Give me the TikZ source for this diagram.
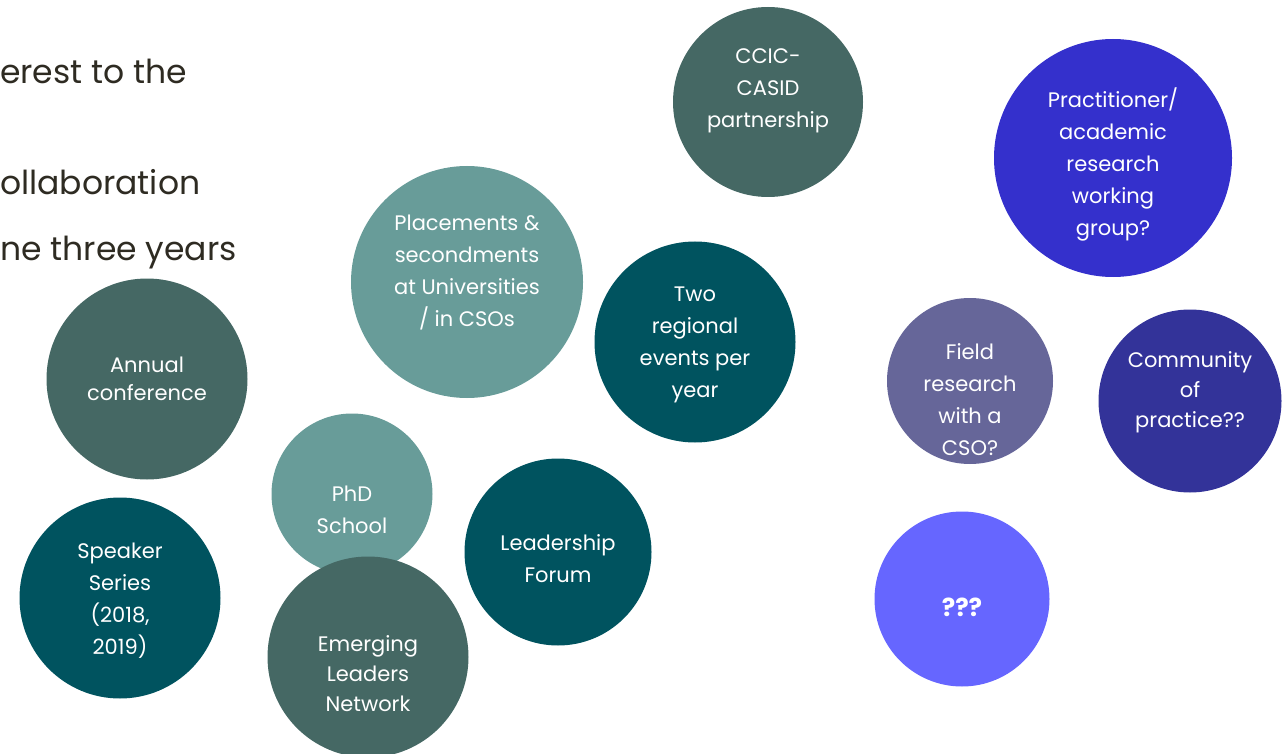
\documentclass[tikz,border=0pt]{standalone}
\usepackage{fontspec}
\setmainfont{Poppins}
\definecolor{slate}{HTML}{456864}
\definecolor{sage}{HTML}{689C99}
\definecolor{petrol}{HTML}{00535F}
\definecolor{royal}{HTML}{3430CC}
\definecolor{indigo}{HTML}{333399}
\definecolor{lavender}{HTML}{666699}
\definecolor{periwinkle}{HTML}{6666FF}
\definecolor{ink}{HTML}{2E2B22}
\begin{document}
\begin{tikzpicture}[
	x=1pt,y=-1pt,
	disc/.style={circle,inner sep=0pt,fill=#1},
	lbl/.style={text=white,align=center,font=\fontsize{21}{32}\selectfont},
	head/.style={text=ink,anchor=base west,inner sep=0pt,font=\fontsize{33}{40}\selectfont}
]
	\useasboundingbox (0,0) rectangle (1288,754);
	% text lines as far as they show at the left edge
	\node[head] (l1) at (0,84) {erest to the};
	\node[head] (l2) at (0,195) {ollaboration};
	\node[head] (l3) at (0,261) {ne three years};
	% bubbles
	\node[disc=slate,minimum size=190pt] (ccic) at (768,102) {};
	\node[lbl] (ccic-t) at (768,91) {CCIC-\\CASID\\partnership};
	\node[disc=royal,minimum size=238pt] (prac) at (1113,158) {};
	\node[lbl] (prac-t) at (1113,164) {Practitioner/\\academic\\research\\working\\group?};
	\node[disc=sage,minimum size=232pt] (place) at (467,282) {};
	\node[lbl] (place-t) at (467,273) {Placements \&\\secondments\\at Universities\\/ in CSOs};
	\node[disc=petrol,minimum size=201pt] (two) at (695,342) {};
	\node[lbl] (two-t) at (695,345) {Two\\regional\\events per\\year};
	\node[disc=slate,minimum size=201pt] (annual) at (147,379) {};
	\node[lbl,font=\fontsize{21}{28}\selectfont] (annual-t) at (147,379) {Annual\\conference};
	\node[disc=lavender,minimum size=166pt] (field) at (970,381) {};
	\node[lbl] (field-t) at (970,400) {Field\\research\\with a\\CSO?};
	\node[disc=indigo,minimum size=183pt] (comm) at (1190,401) {};
	\node[lbl,font=\fontsize{21}{30}\selectfont] (comm-t) at (1190,392) {Community\\of\\practice??};
	\node[disc=sage,minimum size=161pt] (phd) at (352,494) {};
	\node[lbl] (phd-t) at (352,510) {PhD\\School};
	\node[disc=petrol,minimum size=187pt] (lead) at (558,552) {};
	\node[lbl] (lead-t) at (558,559) {Leadership\\Forum};
	\node[disc=petrol,minimum size=201pt] (speak) at (120,598) {};
	\node[lbl] (speak-t) at (120,601) {Speaker\\Series\\(2018,\\2019)};
	\node[disc=slate,minimum size=201pt] (emerg) at (368,657) {};
	\node[lbl,font=\fontsize{21}{30}\selectfont] (emerg-t) at (368,674) {Emerging\\Leaders\\Network};
	\node[disc=periwinkle,minimum size=175pt] (open) at (962,599) {};
	\node[lbl,font=\bfseries\fontsize{25}{30}\selectfont] (open-t) at (962,607) {???};
\end{tikzpicture}
\end{document}
